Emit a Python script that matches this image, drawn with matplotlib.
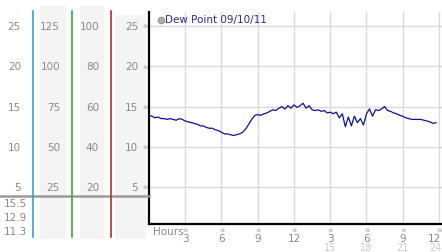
import numpy as np
import matplotlib
matplotlib.use("Agg")
import matplotlib.pyplot as plt
import matplotlib.transforms as mtransforms
from matplotlib.patches import Rectangle
from matplotlib.lines import Line2D

# dew point readings, one every 15 minutes
hours = np.arange(0, 24, 0.25)
dew_point = [
    13.9, 13.8, 13.6, 13.7, 13.5, 13.5, 13.4, 13.5, 13.4, 13.3, 13.5, 13.4,
    13.2, 13.1, 13.0, 12.9, 12.8, 12.6, 12.6, 12.4, 12.3, 12.3, 12.1, 12.0,
    11.8, 11.6, 11.6, 11.5, 11.4, 11.5, 11.6, 11.8, 12.2, 12.8, 13.4, 13.9,
    14.0, 13.9, 14.1, 14.2, 14.4, 14.6, 14.5, 14.8, 15.0, 14.7, 15.1, 14.8,
    15.2, 14.9, 15.1, 15.4, 14.8, 15.1, 14.6, 14.5, 14.6, 14.4, 14.5, 14.2,
    14.3, 14.1, 14.3, 13.6, 14.1, 12.5, 13.7, 12.6, 13.8, 13.0, 13.5, 12.7,
    14.1, 14.7, 13.8, 14.6, 14.5, 14.7, 15.0, 14.5, 14.4, 14.2, 14.1, 13.9,
    13.8, 13.6, 13.5, 13.4, 13.4, 13.4, 13.4, 13.3, 13.2, 13.1, 12.9, 13.0,
]

y_ticks = [5, 10, 15, 20, 25]
scale_cols = [
    ["5", "10", "15", "20", "25"],
    ["25", "50", "75", "100", "125"],
    ["20", "40", "60", "80", "100"],
    ["5", "10", "15", "20", "25"],
]
summary_vals = ["15.5", "12.9", "11.3"]
x_ticks = [3, 6, 9, 12, 15, 18, 21, 24]
x_top_labels = ["3", "6", "9", "12", "3", "6", "9", "12"]
x_bottom_labels = ["", "", "", "", "15", "18", "21", "24"]

W, H = 442, 253
fig = plt.figure(figsize=(W / 100, H / 100), dpi=100)
fig.patch.set_facecolor("white")


def fx(px):
    return px / W


def fy(py):
    return 1 - py / H


ax = fig.add_axes([fx(149), fy(225), fx(442) - fx(149), fy(13) - fy(225)])
ax.plot(hours, dew_point, color="#10108f", lw=0.9)
ax.set_xlim(0, 24.25)
ax.set_ylim(0.4, 26.75)
ax.set_xticks(x_ticks)
ax.set_yticks(y_ticks)
ax.grid(True, color="#d9d9d9", lw=1)
ax.tick_params(length=0, labelbottom=False, labelleft=False)
for s in ["top", "right"]:
    ax.spines[s].set_visible(False)
ax.spines["left"].set_linewidth(1.6)
ax.spines["bottom"].set_linewidth(1.6)

grey = "#8a8a8a"
fs = 7.5

# side panels
for x0, x1, y0 in [(40, 66, 7), (80, 104, 7), (115, 146, 16)]:
    fig.patches.append(Rectangle((fx(x0), fy(240)), fx(x1) - fx(x0), fy(y0) - fy(240),
                                 transform=fig.transFigure, facecolor="#f4f4f4",
                                 edgecolor="none", zorder=0))
fig.add_artist(Line2D([0, fx(149)], [fy(197), fy(197)], color="#9a9a9a", lw=1.8))
for xp, c in [(33, "#3aa0d0"), (72, "#3aaa3a"), (111, "#b03030")]:
    fig.add_artist(Line2D([fx(xp), fx(xp)], [fy(238), fy(12)], color=c, lw=1.2))

trans_y = mtransforms.blended_transform_factory(fig.transFigure, ax.transData)
for col, xr in zip(scale_cols, [21, 60, 99, 138]):
    for v, lab in zip(y_ticks, col):
        fig.text(fx(xr), v, lab, transform=trans_y, ha="right", va="center",
                 fontsize=fs, color=grey)
for v in y_ticks:
    fig.text(fx(145), v, "≋", transform=trans_y, ha="center", va="center",
             fontsize=4.5, color="#999999")

for lab, yp in zip(summary_vals, [204, 218, 232]):
    fig.text(fx(4), fy(yp), lab, ha="left", va="center", fontsize=fs, color=grey)

# x labels (last one pushed left so it stays inside the image)
trans_x = mtransforms.blended_transform_factory(ax.transData, fig.transFigure)
for i, (xv, top, bot) in enumerate(zip(x_ticks, x_top_labels, x_bottom_labels)):
    last = i == len(x_ticks) - 1
    ha = "right" if last else "center"
    xt = 24.2 if last else xv
    fig.text(xv, fy(231), "≋", transform=trans_x, ha="center", va="center",
             fontsize=4.5, color="#999999")
    fig.text(xt, fy(239), top, transform=trans_x, ha=ha, va="center",
             fontsize=fs, color=grey)
    if bot:
        fig.text(xt, fy(248), bot, transform=trans_x, ha=ha, va="center",
                 fontsize=7, color="#cccccc")
fig.text(fx(153), fy(232), "Hours", ha="left", va="center", fontsize=fs, color=grey)

# legend
fig.add_artist(Line2D([fx(160.5)], [fy(20.5)], marker="o", ms=4.5, color="#b0b0b0",
                      markeredgecolor="#999999", lw=0))
fig.text(fx(165), fy(20.5), "Dew Point 09/10/11", ha="left", va="center",
         fontsize=fs, color="#2a2aa8")

fig.savefig("out.png", dpi=100)
